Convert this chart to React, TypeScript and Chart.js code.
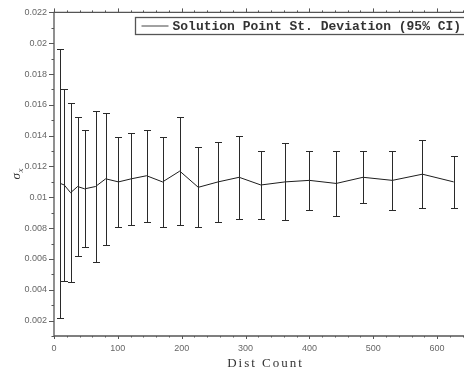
import React, { useEffect, useRef } from "react";
import { Chart, registerables } from "chart.js";

Chart.register(...registerables);

// ---- data ----
const distCount = [10, 16, 26, 37, 48, 65, 81, 101, 121, 145, 170, 197, 226, 257, 290, 324, 362, 400, 442, 484, 530, 577, 626];
const sigmaMean = [0.0109, 0.0108, 0.0103, 0.0107, 0.01055, 0.0107, 0.0112, 0.011, 0.0112, 0.0114, 0.011, 0.0117, 0.01065, 0.011, 0.0113, 0.0108, 0.011, 0.0111, 0.0109, 0.0113, 0.0111, 0.0115, 0.011];
const ciHalf = [0.0087, 0.0062, 0.0058, 0.0045, 0.0038, 0.0049, 0.0043, 0.0029, 0.003, 0.003, 0.0029, 0.0035, 0.0026, 0.0026, 0.0027, 0.0022, 0.0025, 0.0019, 0.0021, 0.0017, 0.0019, 0.0022, 0.0017];

const xMin = 0;
const xMax = 650;
const xMajorStep = 100;
const xMinorStep = 20;
const yMin = 0.001;
const yMax = 0.022;
const yMajorStep = 0.002;
const yMinorStep = 0.001;

const legendLabel = "Solution Point St. Deviation (95% CI)";
const xTitle = "Dist Count";
const yTitleMain = "σ";
const yTitleSub = "x";

const AXIS_COLOR = "#555";
const TEXT_COLOR = "#666";

const decorPlugin = {
  id: "decor",
  afterDatasetsDraw(chart: any) {
    const ctx = chart.ctx as CanvasRenderingContext2D;
    const xs = chart.scales.x;
    const ys = chart.scales.y;
    const area = chart.chartArea;

    // error bars
    ctx.save();
    ctx.strokeStyle = "#2a2a2a";
    ctx.lineWidth = 1;
    distCount.forEach((d, i) => {
      const px = Math.round(xs.getPixelForValue(d)) + 0.5;
      const top = Math.round(ys.getPixelForValue(sigmaMean[i] + ciHalf[i])) + 0.5;
      const bot = Math.round(ys.getPixelForValue(sigmaMean[i] - ciHalf[i])) + 0.5;
      ctx.beginPath();
      ctx.moveTo(px, top);
      ctx.lineTo(px, bot);
      ctx.moveTo(px - 3.5, top);
      ctx.lineTo(px + 3.5, top);
      ctx.moveTo(px - 3.5, bot);
      ctx.lineTo(px + 3.5, bot);
      ctx.stroke();
    });
    ctx.restore();
  },
  afterDraw(chart: any) {
    const ctx = chart.ctx as CanvasRenderingContext2D;
    const xs = chart.scales.x;
    const ys = chart.scales.y;
    const area = chart.chartArea;

    // axis frame
    ctx.save();
    ctx.strokeStyle = AXIS_COLOR;
    ctx.lineWidth = 1.3;
    ctx.beginPath();
    ctx.rect(area.left, area.top, area.right - area.left, area.bottom - area.top);
    ctx.stroke();

    // ticks
    ctx.lineWidth = 1;
    ctx.beginPath();
    const nx = Math.round((xMax - xMin) / xMinorStep);
    for (let k = 0; k <= nx; k++) {
      const v = xMin + k * xMinorStep;
      const major = Math.abs(v / xMajorStep - Math.round(v / xMajorStep)) < 1e-9;
      const px = Math.round(xs.getPixelForValue(v)) + 0.5;
      ctx.moveTo(px, area.bottom);
      ctx.lineTo(px, area.bottom + (major ? 3 : 1.5));
      ctx.moveTo(px, area.top);
      ctx.lineTo(px, area.top - (major ? 4 : 2));
    }
    const ny = Math.round((yMax - yMin) / yMinorStep);
    for (let k = 0; k <= ny; k++) {
      const v = yMin + k * yMinorStep;
      const major = Math.abs(v / yMajorStep - Math.round(v / yMajorStep)) < 1e-6;
      const py = Math.round(ys.getPixelForValue(v)) + 0.5;
      ctx.moveTo(area.left, py);
      ctx.lineTo(area.left - (major ? 5 : 2.5), py);
    }
    ctx.stroke();

    // legend
    ctx.font = 'bold 13px "Liberation Mono"';
    const tw = ctx.measureText(legendLabel).width;
    const boxH = 17;
    const boxW = 6 + 27 + 4 + tw + 6;
    const bx = Math.round(area.right - 2 - boxW) + 0.5;
    const by = Math.round(area.top + 5) + 0.5;
    ctx.fillStyle = "#fff";
    ctx.fillRect(bx, by, boxW, boxH);
    ctx.strokeStyle = AXIS_COLOR;
    ctx.lineWidth = 1.3;
    ctx.strokeRect(bx, by, boxW, boxH);
    ctx.strokeStyle = "#444";
    ctx.lineWidth = 1;
    ctx.beginPath();
    ctx.moveTo(bx + 6, by + boxH / 2);
    ctx.lineTo(bx + 33, by + boxH / 2);
    ctx.stroke();
    ctx.fillStyle = "#333";
    ctx.textBaseline = "middle";
    ctx.textAlign = "left";
    ctx.fillText(legendLabel, bx + 37, by + boxH / 2 + 0.5);

    // x title
    ctx.fillStyle = "#333";
    ctx.font = '13px "Liberation Serif"';
    (ctx as any).letterSpacing = "2px";
    ctx.textAlign = "center";
    ctx.textBaseline = "alphabetic";
    ctx.fillText(xTitle, (area.left + area.right) / 2 + 4, 366.5);
    (ctx as any).letterSpacing = "0px";

    // y title (rotated, with subscript)
    ctx.translate(16, (area.top + area.bottom) / 2);
    ctx.rotate(-Math.PI / 2);
    ctx.textAlign = "left";
    ctx.font = 'italic 13px "Liberation Serif"';
    const sw = ctx.measureText(yTitleMain).width;
    ctx.font = 'italic 9px "Liberation Serif"';
    const subw = ctx.measureText(yTitleSub).width;
    const start = -(sw + subw) / 2;
    ctx.font = 'italic 13px "Liberation Serif"';
    ctx.fillText(yTitleMain, start, 3.5);
    ctx.font = 'italic 9px "Liberation Serif"';
    ctx.fillText(yTitleSub, start + sw + 0.5, 6.5);
    ctx.restore();
  },
};

export default function App() {
  const ref = useRef<HTMLCanvasElement>(null);
  useEffect(() => {
    const chart = new Chart(ref.current as HTMLCanvasElement, {
      type: "line",
      data: {
        datasets: [
          {
            label: legendLabel,
            data: distCount.map((d, i) => ({ x: d, y: sigmaMean[i] })),
            borderColor: "#1e1e1e",
            borderWidth: 1,
            pointRadius: 0,
            tension: 0,
            fill: false,
          },
        ],
      },
      options: {
        animation: false,
        responsive: true,
        maintainAspectRatio: false,
        layout: { padding: { left: 24, top: 8, right: 3, bottom: 18 } },
        plugins: { legend: { display: false }, tooltip: { enabled: false } },
        scales: {
          x: {
            type: "linear",
            min: xMin,
            max: xMax,
            grid: { display: false, drawTicks: false },
            border: { display: false },
            ticks: {
              stepSize: xMajorStep,
              includeBounds: false,
              padding: 7,
              maxRotation: 0,
              color: TEXT_COLOR,
              font: { family: "Liberation Sans", size: 9 },
            },
            afterFit: (s: any) => {
              s.height = 18;
            },
          },
          y: {
            type: "linear",
            min: yMin,
            max: yMax,
            grid: { display: false, drawTicks: false },
            border: { display: false },
            ticks: {
              stepSize: yMajorStep,
              includeBounds: false,
              padding: 7,
              color: TEXT_COLOR,
              font: { family: "Liberation Sans", size: 9 },
              callback: (v: any) => String(Number(Number(v).toFixed(3))),
            },
            afterFit: (s: any) => {
              s.width = 30;
            },
          },
        },
      } as any,
      plugins: [decorPlugin],
    });
    return () => chart.destroy();
  }, []);
  return (
    <div style={{ position: "fixed", left: 0, top: 0, width: 472, height: 372 }}>
      <canvas ref={ref} />
    </div>
  );
}
